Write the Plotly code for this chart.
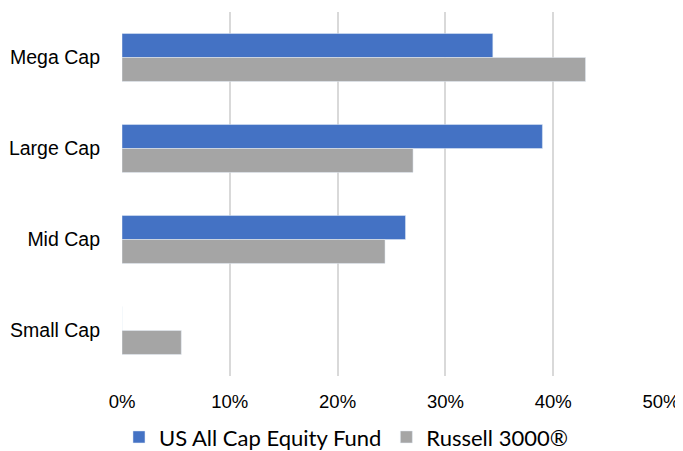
import plotly.graph_objects as go

categories = ["Mega Cap", "Large Cap", "Mid Cap", "Small Cap"]
fund_values = [34.4, 39.0, 26.3, 0.0]
russell_values = [43.0, 27.0, 24.4, 5.5]
tick_vals = [0, 10, 20, 30, 40, 50]
tick_text = ["0%", "10%", "20%", "30%", "40%", "50%"]

fig = go.Figure()
fig.add_trace(go.Bar(y=categories, x=fund_values, orientation="h",
                     name="US All Cap Equity Fund", marker_color="#4472C4"))
fig.add_trace(go.Bar(y=categories, x=russell_values, orientation="h",
                     name="Russell 3000®", marker_color="#A5A5A5"))

fig.update_layout(
    width=675, height=443,
    margin=dict(l=114, r=22, t=4, b=75, autoexpand=False),
    paper_bgcolor="white", plot_bgcolor="white",
    barmode="group", bargap=0.473, bargroupgap=0,
    showlegend=True,
    legend=dict(orientation="h", x=-0.0056, xanchor="left", y=-0.168, yanchor="middle",
                font=dict(family="Lato, Carlito, Calibri, sans-serif", size=22, color="#000"),
                traceorder="normal", itemwidth=30, tracegroupgap=0),
    xaxis=dict(range=[0, 50], tickvals=tick_vals, ticktext=tick_text,
               showgrid=True, gridcolor="#D9D9D9", gridwidth=2, zeroline=False,
               showline=False, ticks="", automargin=False,
               ticklabelstandoff=12,
               tickfont=dict(family="Liberation Sans, Arial, sans-serif", size=18.5, color="#000")),
    yaxis=dict(categoryorder="array", categoryarray=categories, autorange="reversed",
               showgrid=False, zeroline=False, showline=False, ticks="",
               automargin=False, ticklabelstandoff=21,
               tickfont=dict(family="Liberation Sans, Arial, sans-serif", size=19.5, color="#000")),
)

fig.write_html("out.html")
